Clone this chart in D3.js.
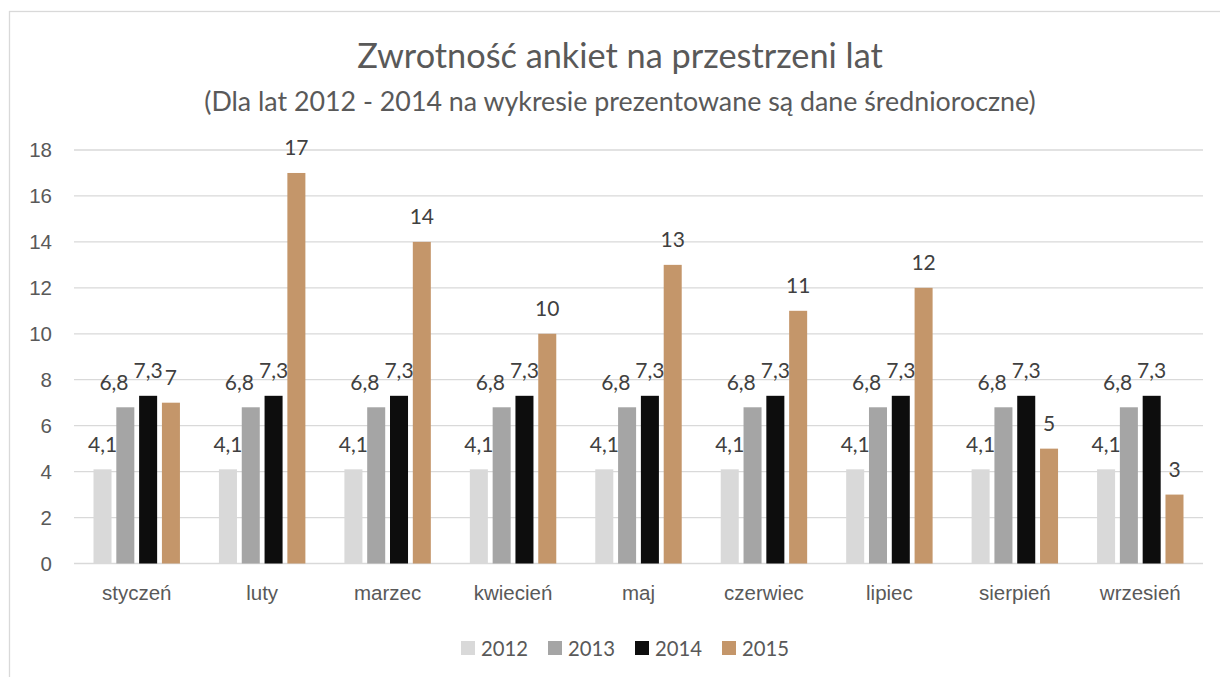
<!DOCTYPE html>
<html>
<head>
<meta charset="utf-8">
<script src="https://cdn.jsdelivr.net/npm/d3@7"></script>
<style>
  body { margin: 0; background: #fff; }
  svg { display: block; font-family: Lato, "Open Sans", sans-serif; }
</style>
</head>
<body>
<svg width="1220" height="677"></svg>
<script>
const months = ["styczeń", "luty", "marzec", "kwiecień", "maj", "czerwiec", "lipiec", "sierpień", "wrzesień"];
const years = ["2012", "2013", "2014", "2015"];
const values2012 = [4.1, 4.1, 4.1, 4.1, 4.1, 4.1, 4.1, 4.1, 4.1];
const values2013 = [6.8, 6.8, 6.8, 6.8, 6.8, 6.8, 6.8, 6.8, 6.8];
const values2014 = [7.3, 7.3, 7.3, 7.3, 7.3, 7.3, 7.3, 7.3, 7.3];
const values2015 = [7, 17, 14, 10, 13, 11, 12, 5, 3];
const yTicks = [0, 2, 4, 6, 8, 10, 12, 14, 16, 18];
const colors = ["#d9d9d9", "#a5a5a5", "#0d0d0d", "#c4966a"];

const svg = d3.select("svg");
const margin = { top: 150, right: 17, bottom: 113.5, left: 74 };
const width = +svg.attr("width");
const height = +svg.attr("height");
const labelSize = 21;

const seriesValues = [values2012, values2013, values2014, values2015];
const rows = months.map((m, i) => ({
    month: m,
    vals: years.map((y, j) => ({ year: y, value: seriesValues[j][i] }))
}));

// chart frame
svg.append("rect")
    .attr("x", 9.5).attr("y", 11.5)
    .attr("width", 1240).attr("height", 700)
    .attr("fill", "none").attr("stroke", "#d9d9d9").attr("stroke-width", 1.3);

const x0 = d3.scaleBand()
    .domain(months)
    .range([margin.left, width - margin.right])
    .paddingInner(0.311)
    .paddingOuter(0.1555);

const x1 = d3.scaleBand()
    .domain(years)
    .range([0, x0.bandwidth()])
    .paddingInner(0.21);

const y = d3.scaleLinear()
    .domain([0, 18])
    .range([height - margin.bottom, margin.top]);

const color = d3.scaleOrdinal().domain(years).range(colors);

// gridlines
svg.append("g")
    .selectAll("line")
    .data(yTicks)
    .join("line")
        .attr("x1", margin.left).attr("x2", width - margin.right)
        .attr("y1", d => y(d)).attr("y2", d => y(d))
        .attr("stroke", "#d9d9d9").attr("stroke-width", 1.3);

// y axis
const yAxis = g => g
    .attr("transform", `translate(${margin.left},0)`)
    .call(d3.axisLeft(y).tickValues(yTicks).tickSize(0).tickPadding(22))
    .call(g => g.select(".domain").remove())
    .call(g => g.selectAll("text")
        .attr("fill", "#595959").attr("font-size", 20.5).attr("font-family", null));
svg.append("g").call(yAxis);

// x axis
const xAxis = g => g
    .attr("transform", `translate(0,${height - margin.bottom})`)
    .call(d3.axisBottom(x0).tickSize(0).tickPadding(22))
    .call(g => g.select(".domain").remove())
    .call(g => g.selectAll("text")
        .attr("fill", "#595959").attr("font-size", 20.5).attr("font-family", null));
svg.append("g").call(xAxis);

// bars
const groups = svg.append("g")
    .selectAll("g")
    .data(rows)
    .join("g")
        .attr("transform", d => `translate(${x0(d.month)},0)`);

groups.selectAll("rect")
    .data(d => d.vals)
    .join("rect")
        .attr("x", d => x1(d.year))
        .attr("y", d => y(d.value))
        .attr("width", x1.bandwidth())
        .attr("height", d => y(0) - y(d.value))
        .attr("fill", d => color(d.year));

groups.selectAll("text")
    .data(d => d.vals)
    .join("text")
        .attr("x", d => x1(d.year) + x1.bandwidth() / 2)
        .attr("y", d => y(d.value) - 17.5)
        .attr("text-anchor", "middle")
        .attr("font-size", labelSize)
        .attr("fill", "#404040")
        .text(d => String(d.value).replace(".", ","));

// nudge labels left when they run into the next bar or label on the right
groups.each(function () {
    const texts = d3.select(this).selectAll("text").nodes();
    const bars = d3.select(this).selectAll("rect").data();
    const placed = [];
    for (let i = texts.length - 1; i >= 0; i--) {
        const t = d3.select(texts[i]);
        const d = t.datum();
        const w = texts[i].getComputedTextLength();
        const base = y(d.value) - 17.5;
        const top = base - labelSize * 0.72;
        let right = x1(d.year) + x1.bandwidth() / 2 + w / 2;
        const obstacles = [];
        bars.forEach(b => {
            if (x1(b.year) > x1(d.year) && y(b.value) < base) obstacles.push(x1(b.year));
        });
        placed.forEach(p => {
            if (p.top < base && p.base > top) obstacles.push(p.left);
        });
        let moved = true;
        while (moved) {
            moved = false;
            obstacles.forEach(o => {
                if (right > o + 1 && right - w < o + 30) {
                    right = o - 5;
                    moved = true;
                }
            });
        }
        t.attr("x", right - w / 2);
        placed.push({ left: right - w, top: top, base: base });
    }
});

// titles
svg.append("text")
    .attr("x", 620).attr("y", 68)
    .attr("text-anchor", "middle")
    .attr("font-size", 34.3)
    .attr("fill", "#595959")
    .text("Zwrotność ankiet na przestrzeni lat");

svg.append("text")
    .attr("x", 620).attr("y", 111)
    .attr("text-anchor", "middle")
    .attr("font-size", 26.8)
    .attr("fill", "#595959")
    .text("(Dla lat 2012 - 2014 na wykresie prezentowane są dane średnioroczne)");

// legend
const legend = svg.append("g")
    .selectAll("g")
    .data(years)
    .join("g")
        .attr("transform", (d, i) => `translate(${461 + i * 87},641)`);

legend.append("rect")
    .attr("width", 14).attr("height", 14)
    .attr("fill", d => color(d));

legend.append("text")
    .attr("x", 20).attr("y", 14.5)
    .attr("font-size", 20.3)
    .attr("fill", "#595959")
    .text(d => d);
</script>
</body>
</html>
